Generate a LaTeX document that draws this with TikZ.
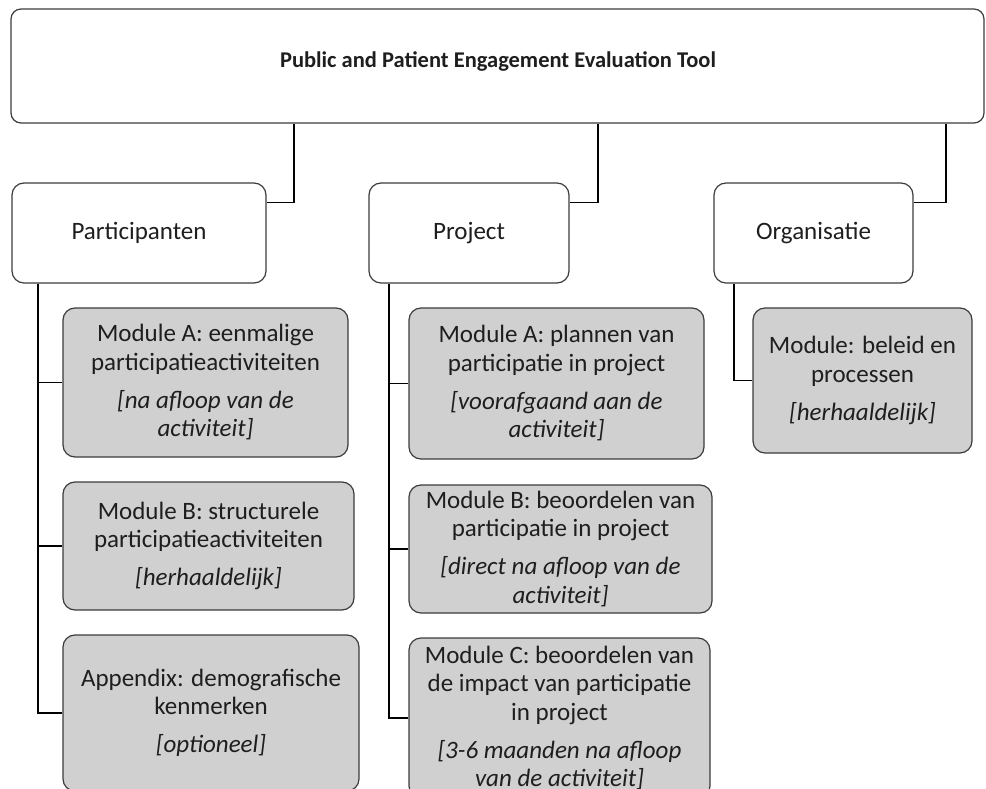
\documentclass[tikz,border=0pt]{standalone}
\usepackage{fontspec}
\setmainfont{Carlito}
\usetikzlibrary{calc}
\definecolor{boxline}{HTML}{3C3C3C}
\definecolor{modfill}{HTML}{D0D0D0}
\definecolor{ink}{HTML}{1E1E1E}
\begin{document}
\begin{tikzpicture}[x=1pt,y=-1pt,
  basebox/.style={draw=boxline, line width=1.2pt, rounded corners=12pt,
    inner sep=0pt, align=center, text=ink,
    font=\fontsize{25}{28.5}\selectfont},
  headbox/.style={basebox, fill=white},
  modbox/.style={basebox, fill=modfill},
  link/.style={draw=black, line width=1.5pt}]
\useasboundingbox (0,0) rectangle (986,789);
\clip (0,0) rectangle (986,789);

% top level
\node[headbox, rounded corners=10pt, minimum width=973pt, minimum height=114pt] (top) at (497.5,66) {};
\node[text=ink, font=\fontsize{22.5}{26}\selectfont\bfseries] (title) at (498,61) {Public and Patient Engagement Evaluation Tool};

% second level
\node[headbox, minimum width=254pt, minimum height=100pt] (part) at (139,233) {Participanten};
\node[headbox, minimum width=200pt, minimum height=100pt] (proj) at (469,233) {Project};
\node[headbox, minimum width=199pt, minimum height=100pt] (org) at (813.5,233) {Organisatie};

% participant modules
\node[modbox, minimum width=285pt, minimum height=149pt] (pa) at (205.5,382.5)
  {Module A: eenmalige\\participatieactiviteiten\\[9.5pt]\itshape [na afloop van de\\\itshape activiteit]};
\node[modbox, minimum width=291pt, minimum height=128pt] (pb) at (208.5,546)
  {Module B: structurele\\participatieactiviteiten\\[9.5pt]\itshape [herhaaldelijk]};
\node[modbox, minimum width=296pt, minimum height=156pt] (pc) at (211,713)
  {Appendix: demografische\\kenmerken\\[9.5pt]\itshape [optioneel]};

% project modules
\node[modbox, minimum width=295pt, minimum height=151pt] (ja) at (556.5,383.5)
  {Module A: plannen van\\participatie in project\\[9.5pt]\itshape [voorafgaand aan de\\\itshape activiteit]};
\node[modbox, minimum width=303pt, minimum height=128pt] (jb) at (560.5,549)
  {Module B: beoordelen van\\participatie in project\\[9.5pt]\itshape [direct na afloop van de\\\itshape activiteit]};
\node[modbox, minimum width=301pt, minimum height=160pt] (jc) at (559.5,718)
  {Module C: beoordelen van\\de impact van participatie\\in project\\[9.5pt]\itshape [3-6 maanden na afloop\\\itshape van de activiteit]};

% organisation module
\node[modbox, minimum width=219pt, minimum height=145pt] (oa) at (862.5,380.5)
  {Module: beleid en\\processen\\[9.5pt]\itshape [herhaaldelijk]};

% elbows from the top box to the second level
\coordinate (pk) at ($(part.north east)+(0,20)$);
\coordinate (jk) at ($(proj.north east)+(0,20)$);
\coordinate (ok) at ($(org.north east)+(0,20)$);
\draw[link] (top.south -| 294,0) |- (pk);
\draw[link] (top.south -| 598,0) |- (jk);
\draw[link] (top.south -| 946,0) |- (ok);

% trunks to the modules
\draw[link] (part.south -| 38,0) |- (pa.west);
\draw[link] (part.south -| 38,0) |- (pb.west);
\draw[link] (part.south -| 38,0) |- (pc.west);
\draw[link] (proj.south -| 389,0) |- (ja.west);
\draw[link] (proj.south -| 389,0) |- (jb.west);
\draw[link] (proj.south -| 389,0) |- (jc.west);
\draw[link] (org.south -| 734,0) |- (oa.west);
\end{tikzpicture}
\end{document}
